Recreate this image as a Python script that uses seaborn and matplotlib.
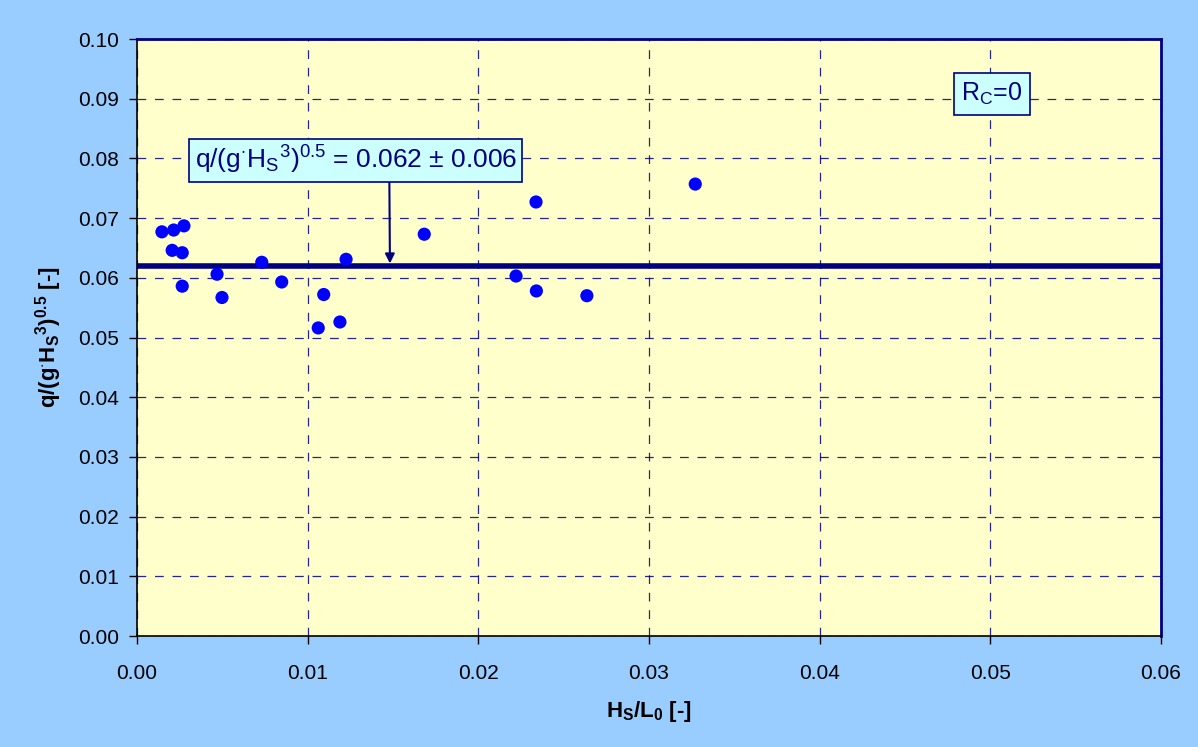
import matplotlib
matplotlib.use("Agg")
import matplotlib.pyplot as plt
import seaborn as sns
import pandas as pd

# ------------------------------------------------------------
# data
# ------------------------------------------------------------
hs_l0 = [0.00146, 0.00215, 0.00275, 0.00206, 0.00265, 0.00265, 0.00469, 0.00498,
         0.00731, 0.00848, 0.01062, 0.01094, 0.01189, 0.01225, 0.01683, 0.02221,
         0.02338, 0.02340, 0.02636, 0.03271]
q_dimless = [0.0677, 0.0680, 0.0687, 0.0646, 0.0642, 0.0586, 0.0606, 0.0567,
             0.0626, 0.0593, 0.0516, 0.0572, 0.0526, 0.0631, 0.0673, 0.0603,
             0.0727, 0.0578, 0.0570, 0.0757]
mean_q = 0.062

x_ticks = [0.00, 0.01, 0.02, 0.03, 0.04, 0.05, 0.06]
y_ticks = [0.00, 0.01, 0.02, 0.03, 0.04, 0.05, 0.06, 0.07, 0.08, 0.09, 0.10]

df = pd.DataFrame({"hs_l0": hs_l0, "q": q_dimless})

NAVY = "#000080"

sns.set_style("ticks")
plt.rcParams['font.family'] = ['Liberation Sans', 'DejaVu Sans']
plt.rcParams['mathtext.fontset'] = 'custom'
plt.rcParams['mathtext.rm'] = 'Liberation Sans'
plt.rcParams['mathtext.it'] = 'Liberation Sans'
plt.rcParams['mathtext.bf'] = 'Liberation Sans:bold'
plt.rcParams['text.color'] = 'black'
plt.rcParams['axes.labelcolor'] = 'black'

fig = plt.figure(figsize=(11.98, 7.47), dpi=100)
fig.patch.set_facecolor("#99CCFF")
ax = fig.add_axes([137 / 1198, 1 - 636 / 747, (1161 - 137) / 1198, (636 - 39) / 747])
ax.set_facecolor("#FFFFCC")

ax.set_xlim(0, 0.06)
ax.set_ylim(0, 0.10)
ax.set_xticks(x_ticks)
ax.set_yticks(y_ticks)
ax.set_xticklabels([f"{v:.2f}" for v in x_ticks])
ax.set_yticklabels([f"{v:.2f}" for v in y_ticks])
ax.tick_params(axis="both", labelsize=15, direction="out", length=6, width=1,
               color="black", labelcolor="black", pad=7)
ax.tick_params(axis="x", pad=14)

ax.grid(True, color=NAVY, linestyle=(0, (7, 7)), linewidth=0.9, alpha=0.85)
ax.set_axisbelow(True)

ax.axhline(mean_q, color=NAVY, linewidth=4, zorder=2)

sns.scatterplot(data=df, x="hs_l0", y="q", ax=ax, color="#0000FF", s=90,
                edgecolor="none", zorder=3)

for side in ["left", "bottom"]:
    ax.spines[side].set_color("black")
    ax.spines[side].set_linewidth(1.2)
for side in ["top", "right"]:
    ax.spines[side].set_color(NAVY)
    ax.spines[side].set_linewidth(2)

ax.set_xlabel(r"$\mathbf{H_S/L_0}$ $\mathbf{[}$-$\mathbf{]}$", fontsize=16,
              fontweight="bold", labelpad=12)
ax.set_ylabel(r"$\mathbf{q/(g^{\cdot}H_S{}^{3})^{0.5}}$ $\mathbf{[}$-$\mathbf{]}$",
              fontsize=16, fontweight="bold", labelpad=10)

# annotation box with arrow
ax.annotate(r"q/(g$^{\cdot}$H$_S$$^{3}$)$^{0.5}$ = 0.062 $\pm$ 0.006",
            xy=(0.01482, mean_q + 0.0004), xytext=(0.01282, 0.0797),
            ha="center", va="center", fontsize=19, color=NAVY,
            bbox=dict(boxstyle="square,pad=0.2", facecolor="#CCFFFF",
                      edgecolor=NAVY, linewidth=1.2),
            arrowprops=dict(arrowstyle="-|>", color=NAVY, lw=1.5,
                            shrinkA=0, shrinkB=0, mutation_scale=14,
                            relpos=(0.604, 0.0)),
            zorder=5)

ax.text(0.0501, 0.0908, r"R$_C$=0", ha="center", va="center", fontsize=18,
        color=NAVY,
        bbox=dict(boxstyle="square,pad=0.3", facecolor="#CCFFFF",
                  edgecolor=NAVY, linewidth=1.2),
        zorder=5)

fig.savefig("out.png", dpi=100, facecolor=fig.get_facecolor())
